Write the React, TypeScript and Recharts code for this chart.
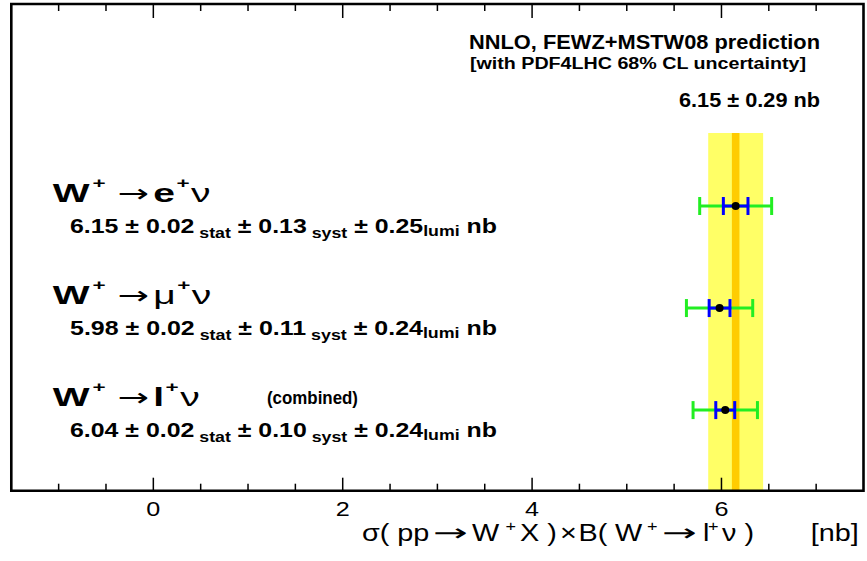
import React from "react";
import {
  ComposedChart,
  XAxis,
  YAxis,
  Scatter,
  ErrorBar,
  ReferenceArea,
  Customized,
} from "recharts";

const FONT = "'Liberation Sans', Arial, Helvetica, sans-serif";
const ARROW_FONT = "'DejaVu Sans', sans-serif";

// W+ cross-section measurements per channel [nb]
const channels = ["e", "\u03bc", "l"];
const channelNotes = ["", "", "(combined)"];
const central = [6.15, 5.98, 6.04];
const statErr = [0.02, 0.02, 0.02];
const systErr = [0.13, 0.11, 0.1];
const lumiErr = [0.25, 0.24, 0.24];
// half-widths of the inner (stat+syst) and outer (total) bars
const innerErr = [0.13, 0.11, 0.1];
const outerErr = [0.38, 0.35, 0.34];

// NNLO prediction band
const predCentral = 6.15;
const predErr = 0.29;

const xTicks = [-1, -0.5, 0, 0.5, 1, 1.5, 2, 2.5, 3, 3.5, 4, 4.5, 5, 5.5, 6, 6.5, 7];
const xTickLabels = [0, 2, 4, 6];

const rows = channels.map((c, i) => ({
  row: i,
  x: central[i],
  inner: innerErr[i],
  outer: outerErr[i],
}));

const W = 867;
const H = 561;
const MARGIN = { top: 4, right: 3.5, bottom: 0, left: 11.3 };
const X_AXIS_H = 70.3;
const PLOT_H = H - MARGIN.top - X_AXIS_H;

const X_DOMAIN: [number, number] = [-1.5, 7.5];
const Y_DOMAIN: [number, number] = [-1.98, 2.79];
const BAND_TOP = -0.715;
const LINE_HALF = 0.04;

const fmt = (v: number) => v.toFixed(2);

// inward ticks on the bottom edge, mirrored on the top edge
const FrameTick = (props: any) => {
  const { x, y, payload } = props;
  const major = xTickLabels.includes(payload.value);
  const top = y - PLOT_H;
  return (
    <g>
      <line x1={x} x2={x} y1={y} y2={y - (major ? 13 : 7)} stroke="#000" strokeWidth={1.5} />
      <line x1={x} x2={x} y1={top} y2={top + (major ? 14 : 7)} stroke="#000" strokeWidth={1.5} />
      {major && (
        <text
          x={x}
          y={y + 25.5}
          textAnchor="middle"
          fontFamily={FONT}
          fontSize={20}
          textLength={14}
          lengthAdjust="spacingAndGlyphs"
          fill="#000"
        >
          {payload.value}
        </text>
      )}
    </g>
  );
};

// channel title + numeric result drawn at the row's height
const RowLabel = (props: any) => {
  const { cy, payload } = props;
  if (cy == null || !payload) return null;
  const i = payload.row;
  const ch = channels[i];
  const greek = /[\u0370-\u03ff]/.test(ch);
  return (
    <g fontFamily={FONT} fill="#000">
      <g transform={`translate(52.7, ${cy - 4.3}) scale(1.5, 1)`}>
        <text x={0} y={0} fontSize={26} fontWeight="bold">
          <tspan x={0}>W</tspan>
          <tspan x={26.5} dy={-14} fontSize={15}>+</tspan>
          <tspan x={43} dy={14} fontWeight="normal" fontSize={25} fontFamily={ARROW_FONT}>
            {"\u2192"}
          </tspan>
          <tspan x={67} fontWeight={greek ? "normal" : "bold"}>{ch}</tspan>
          <tspan dx={1} dy={-14} fontSize={15}>+</tspan>
          <tspan dx={1} dy={14} fontWeight="normal">{"\u03bd"}</tspan>
        </text>
      </g>
      {channelNotes[i] && (
        <text
          x={267}
          y={cy - 6.5}
          fontSize={18}
          fontWeight="bold"
          textLength={91}
          lengthAdjust="spacingAndGlyphs"
        >
          {channelNotes[i]}
        </text>
      )}
      <text
        x={70}
        y={cy + 27}
        fontSize={21}
        fontWeight="bold"
        textLength={427}
        lengthAdjust="spacingAndGlyphs"
        style={{ whiteSpace: "pre" }}
      >
        {`${fmt(central[i])} \u00b1 ${fmt(statErr[i])}`}
        <tspan dy={5} fontSize={15}>{" stat"}</tspan>
        <tspan dy={-5}>{` \u00b1 ${fmt(systErr[i])}`}</tspan>
        <tspan dy={5} fontSize={15}>{" syst"}</tspan>
        <tspan dy={-5}>{` \u00b1 ${fmt(lumiErr[i])}`}</tspan>
        <tspan dy={3} fontSize={15}>{"lumi"}</tspan>
        <tspan dy={-3}>{" nb"}</tspan>
      </text>
    </g>
  );
};

const Dot = (props: any) =>
  props.cx == null ? null : <circle cx={props.cx} cy={props.cy} r={4} fill="#000" />;

// thin arrow glyph, stretched to the requested length
const Arrow = ({ x, len }: { x: number; len: number }) => (
  <text
    x={x}
    y={0}
    fontFamily={ARROW_FONT}
    fontSize={24}
    textLength={len}
    lengthAdjust="spacingAndGlyphs"
    fill="#000"
  >
    {"\u2192"}
  </text>
);

const AxisTitle = () => (
  <g transform="translate(362, 541) scale(1.2, 1)">
    <text x={0} y={0} fontFamily={FONT} fontSize={24} fill="#000" style={{ whiteSpace: "pre" }}>
      <tspan x={0}>{"\u03c3( pp"}</tspan>
      <tspan x={91.7}>W</tspan>
      <tspan x={119.5} dy={-10} fontSize={15}>+</tspan>
      <tspan x={131.7} dy={10}>{"X )"}</tspan>
      <tspan x={165}>{"\u00d7"}</tspan>
      <tspan x={180.5}>{"B("}</tspan>
      <tspan x={210.8}>W</tspan>
      <tspan x={237.5} dy={-10} fontSize={15}>+</tspan>
      <tspan x={284.2} dy={10}>l</tspan>
      <tspan x={288.3} dy={-10} fontSize={15}>+</tspan>
      <tspan x={300} dy={10}>{"\u03bd )"}</tspan>
      <tspan x={374}>[nb]</tspan>
    </text>
    <Arrow x={59.2} len={29} />
    <Arrow x={250} len={29} />
  </g>
);

const Header = () => (
  <g fontFamily={FONT} fill="#000">
    <text x={469} y={49} fontSize={20} fontWeight="bold" textLength={351} lengthAdjust="spacingAndGlyphs">
      NNLO, FEWZ+MSTW08 prediction
    </text>
    <text x={470} y={69} fontSize={16} fontWeight="bold" textLength={336} lengthAdjust="spacingAndGlyphs">
      [with PDF4LHC 68% CL uncertainty]
    </text>
    <text x={679} y={107} fontSize={21} fontWeight="bold" textLength={141} lengthAdjust="spacingAndGlyphs">
      {`${fmt(predCentral)} \u00b1 ${fmt(predErr)} nb`}
    </text>
  </g>
);

export default function App() {
  return (
    <div style={{ position: "absolute", left: 0, top: 0, width: W, height: H, background: "#fff" }}>
      <ComposedChart width={W} height={H} data={rows} margin={MARGIN}>
        <XAxis
          dataKey="x"
          type="number"
          domain={X_DOMAIN}
          ticks={xTicks}
          interval={0}
          allowDataOverflow
          height={X_AXIS_H}
          tickSize={0}
          tickMargin={0}
          tickLine={false}
          axisLine={false}
          tick={(p: any) => <FrameTick {...p} />}
          label={<AxisTitle />}
        />
        <YAxis dataKey="row" type="number" domain={Y_DOMAIN} reversed allowDataOverflow hide />
        <ReferenceArea
          x1={predCentral - predErr}
          x2={predCentral + predErr}
          y1={BAND_TOP}
          y2={Y_DOMAIN[1]}
          fill="#ffff66"
          fillOpacity={1}
          stroke="none"
        />
        <ReferenceArea
          x1={predCentral - LINE_HALF}
          x2={predCentral + LINE_HALF}
          y1={BAND_TOP}
          y2={Y_DOMAIN[1]}
          fill="#ffcc00"
          fillOpacity={1}
          stroke="none"
        />
        {/* plot frame */}
        <ReferenceArea
          x1={X_DOMAIN[0]}
          x2={X_DOMAIN[1]}
          y1={Y_DOMAIN[0]}
          y2={Y_DOMAIN[1]}
          fill="none"
          stroke="#000"
          strokeWidth={2.6}
        />
        <Scatter data={rows} isAnimationActive={false} shape={(p: any) => <RowLabel {...p} />} />
        <Scatter data={rows} isAnimationActive={false} shape={(p: any) => <Dot {...p} />}>
          <ErrorBar dataKey="outer" direction="x" width={9} stroke="#22ee22" strokeWidth={3} />
          <ErrorBar dataKey="inner" direction="x" width={9} stroke="#0000ff" strokeWidth={3} />
        </Scatter>
        <Customized component={Header} />
      </ComposedChart>
    </div>
  );
}
